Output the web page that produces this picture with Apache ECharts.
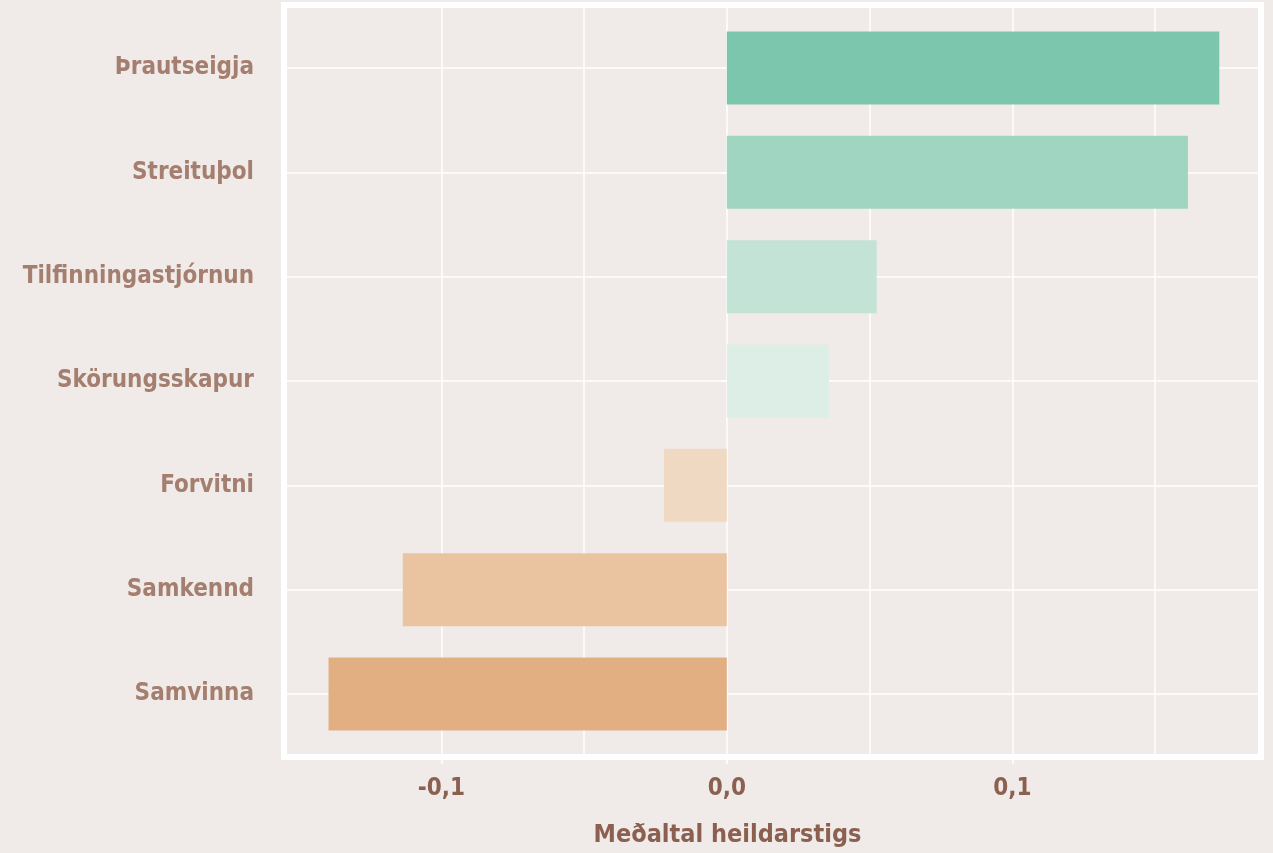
<!DOCTYPE html>
<html>
<head>
<meta charset="utf-8">
<script src="https://cdn.jsdelivr.net/npm/echarts@6/dist/echarts.min.js"></script>
<style>
  html, body { margin: 0; padding: 0; background: #f0ebe8; }
  #chart { width: 1273px; height: 853px; }
</style>
</head>
<body>
<div id="chart"></div>
<script>
const categories = ['Þrautseigja', 'Streituþol', 'Tilfinningastjórnun', 'Skörungsskapur', 'Forvitni', 'Samkennd', 'Samvinna'];
const values = [0.1725, 0.1615, 0.0525, 0.0358, -0.0220, -0.1135, -0.1395];
const barColors = ['#7bc6ac', '#a0d5c1', '#c4e3d7', '#ddeee7', '#efd9c3', '#eac4a0', '#e2af82'];
const xTickLabels = [-0.1, 0.0, 0.1];
const xGridValues = [-0.1, -0.05, 0.0, 0.05, 0.1, 0.15];
const xAxisTitle = 'Meðaltal heildarstigs';

const xMin = -0.1551, xMax = 0.1871;
const fontFamily = '"DejaVu Sans Condensed", "DejaVu Sans", sans-serif';

const chart = echarts.init(document.getElementById('chart'));
chart.setOption({
  backgroundColor: '#f0ebe8',
  animation: false,
  grid: [
    { left: 284, right: 12, top: 5, bottom: 95, show: true, backgroundColor: 'transparent', borderColor: '#ffffff', borderWidth: 6 },
    { left: 284, right: 12, top: 68, bottom: 159 }
  ],
  xAxis: [
    {
      gridIndex: 0, type: 'value', min: xMin, max: xMax,
      axisLine: { show: false },
      axisTick: { show: true, length: 7, lineStyle: { color: '#ffffff', width: 1.5 }, customValues: xTickLabels },
      axisLabel: {
        customValues: xTickLabels,
        color: '#8c6050', fontSize: 24, fontWeight: 'bold', fontFamily: fontFamily, margin: 20,
        formatter: v => v.toFixed(1).replace('.', ',')
      },
      splitLine: { show: false },
      name: xAxisTitle, nameLocation: 'middle', nameGap: 66,
      nameTextStyle: { color: '#8c6050', fontSize: 25, fontWeight: 'bold', fontFamily: fontFamily, padding: [0, 90, 0, 0] }
    },
    {
      gridIndex: 1, type: 'value', min: xMin, max: xMax, show: false
    },
    {
      gridIndex: 0, type: 'value', min: xMin, max: xMax,
      axisLine: { show: false },
      axisTick: { show: false, customValues: xGridValues },
      axisLabel: { show: false, customValues: xGridValues },
      splitLine: { show: true, lineStyle: { color: '#ffffff', width: 1.5 } }
    }
  ],
  yAxis: [
    { gridIndex: 0, type: 'value', show: false },
    {
      gridIndex: 1, type: 'category', data: categories, inverse: true, boundaryGap: false,
      axisLine: { show: false },
      axisTick: { show: true, length: 6, lineStyle: { color: '#ffffff', width: 1.5 } },
      axisLabel: { color: '#a47e6e', fontSize: 24, fontWeight: 'bold', fontFamily: fontFamily, margin: 30 },
      splitLine: { show: true, lineStyle: { color: '#ffffff', width: 1.5 } }
    }
  ],
  series: [
    {
      type: 'bar', xAxisIndex: 1, yAxisIndex: 1, barWidth: 73,
      data: values.map((v, i) => ({ value: v, itemStyle: { color: barColors[i] } }))
    }
  ]
});
</script>
</body>
</html>
